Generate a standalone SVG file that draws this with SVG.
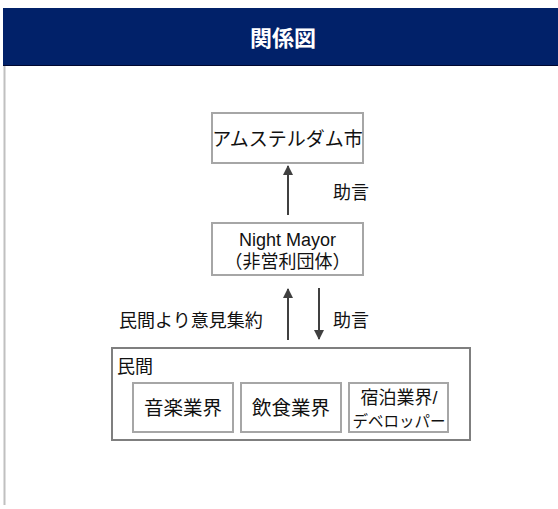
<svg xmlns="http://www.w3.org/2000/svg" width="558" height="509" viewBox="0 0 558 509">
<defs>
<style>
.t{font-family:"Liberation Sans","Noto Sans CJK JP",sans-serif;fill:#111;}
.box{fill:#fff;stroke:#a6a6a6;stroke-width:2;}
.outer{fill:#fff;stroke:#7f7f7f;stroke-width:2;}
.conn{stroke:#404040;stroke-width:2;fill:none;}
</style>
<marker id="ah" viewBox="0 0 10 10" refX="9" refY="5" markerWidth="5" markerHeight="5" orient="auto-start-reverse" markerUnits="strokeWidth">
<path d="M0,0 L10,5 L0,10 z" fill="#404040"/>
</marker>
</defs>
<rect width="558" height="509" fill="#fff"/>
<g id="header">
<rect x="3" y="8" width="555" height="58" fill="#012169"/>
<line x1="3" y1="65.5" x2="558" y2="65.5" stroke="#000830" stroke-width="1"/>
<text x="283" y="46" text-anchor="middle" font-size="22" font-weight="bold" font-family="Liberation Sans,Noto Sans CJK JP,sans-serif" fill="#fff">関係図</text>
</g>
<line x1="4.5" y1="66" x2="4.5" y2="505" stroke="#c0c0c0" stroke-width="2"/>
<g id="connectors">
<line class="conn" x1="288" y1="215" x2="288" y2="166" marker-end="url(#ah)"/>
<line class="conn" x1="288" y1="340" x2="288" y2="289" marker-end="url(#ah)"/>
<line class="conn" x1="319" y1="288" x2="319" y2="339" marker-end="url(#ah)"/>
<text class="t" x="333" y="199" font-size="18">助言</text>
<text class="t" x="333" y="327" font-size="18">助言</text>
<text class="t" x="119" y="327" font-size="18">民間より意見集約</text>
</g>
<g id="amsterdam">
<rect class="box" x="212" y="113" width="151" height="50"/>
<text class="t" x="287.5" y="146" text-anchor="middle" font-size="19">アムステルダム市</text>
</g>
<g id="nightmayor">
<rect class="box" x="212" y="223" width="151" height="52"/>
<text class="t" x="287.5" y="246" text-anchor="middle" font-size="18">Night Mayor</text>
<text class="t" x="287.5" y="268" text-anchor="middle" font-size="18">（非営利団体）</text>
</g>
<g id="private">
<rect class="outer" x="112" y="348" width="358" height="92"/>
<text class="t" x="117" y="373" font-size="18">民間</text>
</g>
<g id="music">
<rect class="box" x="133" y="383" width="100" height="49"/>
<text class="t" x="183" y="415" text-anchor="middle" font-size="19.5">音楽業界</text>
</g>
<g id="food">
<rect class="box" x="241" y="383" width="100" height="49"/>
<text class="t" x="291" y="415" text-anchor="middle" font-size="19.5">飲食業界</text>
</g>
<g id="hotel">
<rect class="box" x="349" y="383" width="99" height="49"/>
<text class="t" x="399" y="404" text-anchor="middle" font-size="18">宿泊業界/</text>
<text class="t" x="399" y="427" text-anchor="middle" font-size="15.5">デベロッパー</text>
</g>
</svg>
